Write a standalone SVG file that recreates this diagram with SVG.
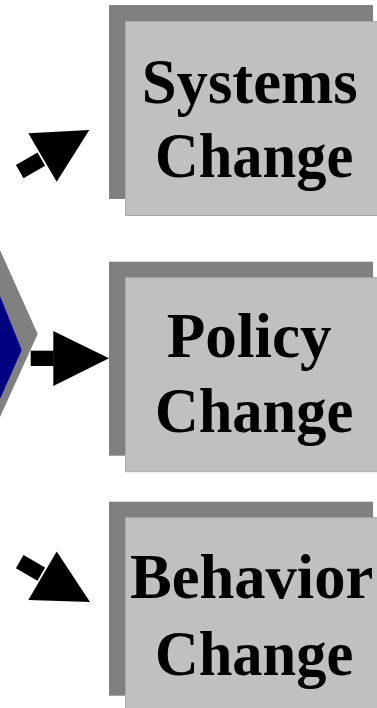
<svg xmlns="http://www.w3.org/2000/svg" width="377" height="708" viewBox="0 0 377 708">
<style>
.shadow{fill:#808080}
.card{fill:#c0c0c0;stroke:#a8a8a8;stroke-width:1}
.lbl{font-family:"Liberation Serif","Times New Roman",serif;font-weight:bold;font-size:63px;fill:#000}
.arr{fill:#000}
</style>
<rect width="377" height="708" fill="#fff"/>
<g id="hub">
<polygon points="0,250 37.7,334 0,417" fill="#808080"/>
<polygon points="0,296 21.7,350 0,399" fill="#000080"/>
</g>
<g id="connectors">
<polygon class="arr" points="15.9,165.1 23.5,178.3 45.1,165.8 37.5,152.6"/>
<polygon class="arr" points="28.3,133.3 56.7,181.7 89.3,130"/>
<rect class="arr" x="30.7" y="350.7" width="23" height="15.3"/>
<polygon class="arr" points="53.3,331 53.3,386 109,358.3"/>
<polygon class="arr" points="15.9,568.2 23.5,555 45.1,567.5 37.5,580.7"/>
<polygon class="arr" points="28.3,600 56.7,551.6 90,602"/>
</g>
<g id="systems">
<rect class="shadow" x="109" y="5" width="264" height="194"/>
<rect class="card" x="125.5" y="21.5" width="260" height="194"/>
<text class="lbl" x="141.7" y="103" textLength="216" lengthAdjust="spacingAndGlyphs">Systems</text>
<text class="lbl" x="155" y="176.7" textLength="198.3" lengthAdjust="spacingAndGlyphs">Change</text>
</g>
<g id="policy">
<rect class="shadow" x="109" y="261.7" width="264" height="194"/>
<rect class="card" x="125.5" y="277.7" width="260" height="194"/>
<text class="lbl" x="166.7" y="356.7" textLength="165" lengthAdjust="spacingAndGlyphs">Policy</text>
<text class="lbl" x="155" y="431.7" textLength="198.3" lengthAdjust="spacingAndGlyphs">Change</text>
</g>
<g id="behavior">
<rect class="shadow" x="109" y="501.7" width="264" height="194"/>
<rect class="card" x="125.5" y="517.7" width="260" height="194"/>
<text class="lbl" x="130" y="598.3" textLength="243.3" lengthAdjust="spacingAndGlyphs">Behavior</text>
<text class="lbl" x="155" y="675" textLength="198.3" lengthAdjust="spacingAndGlyphs">Change</text>
</g>
</svg>
